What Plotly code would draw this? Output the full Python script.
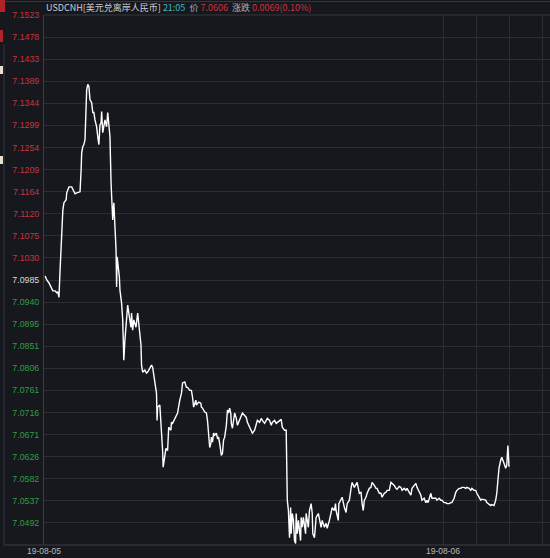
import plotly.graph_objects as go

# minutes since session start
minutes = [2,5,9,13,16,20,23,25,27,29,31,32,34,36,40,41,45,50,52,56,59,65,67,68,70,72,74,76,77,79,81,83,86,88,90,92,95,97,99,101,103,104,106,110,113,115,117,119,121,122,124,126,128,130,131,132,134,136,137,140,142,144,146,149,151,153,157,158,160,162,166,169,171,
           175,176,178,182,185,187,191,194,196,200,203,204,205,209,211,212,214,215,218,220,223,225,229,230,232,236,239,241,245,248,250,254,257,259,263,266,268,270,274,275,279,283,284,286,290,293,295,297,299,301,302,304,306,308,311,313,315,317,319,320,322,324,326,329,331,333,335,337,338,340,344,347,349,353,356,358,362,365,367,371,374,376,380,383,385,389,392,394,398,401,403,407,410,412,416,419,421,425,428,430,434,437,
           439,441,443,445,446,448,450,452,454,455,457,459,463,464,466,468,472,473,477,479,482,484,485,488,490,491,495,499,500,502,506,509,511,515,518,520,524,526,527,531,532,535,536,538,542,545,547,551,554,556,560,563,565,569,572,574,576,578,581,583,587,590,592,596,599,601,605,608,610,614,617,619,623,626,628,632,635,637,641,644,646,650,653,655,659,662,664,668,671,673,677,680,682,686,689,691,693,697,698,700,704,707,709,713,716,718,722,725,727,731,734,736,740,742,743,745,749,752,754,758,761,763,767,770,772,776,779,781,785,788,790,794,797,799,803,806,808,812,815,817,819,821,824,826,830,833,835,837,839]

prices = [7.0993,7.0985,7.0979,7.0971,7.0963,7.0963,7.0959,7.0961,7.0950,7.1005,7.1060,7.1093,7.1127,7.1142,7.1148,7.1162,7.1174,7.1174,7.1168,7.1160,7.1162,7.1164,7.1209,7.1243,7.1256,7.1260,7.1270,7.1317,7.1371,7.1382,7.1378,7.1351,7.1345,7.1325,7.1325,7.1310,7.1296,7.1276,7.1260,7.1300,7.1304,7.1327,7.1284,7.1310,7.1296,7.1325,7.1296,7.1276,7.1182,7.1148,7.1107,7.1142,7.1101,7.1046,7.0971,7.1032,7.1011,7.0991,7.0965,7.0938,7.0904,7.0822,7.0863,7.0904,7.0934,7.0918,7.0889,7.0918,7.0883,7.0904,7.0889,7.0918,7.0898,
          7.0853,7.0812,7.0798,7.0802,7.0796,7.0798,7.0806,7.0812,7.0808,7.0782,7.0755,7.0700,7.0727,7.0731,7.0700,7.0666,7.0639,7.0605,7.0625,7.0643,7.0639,7.0686,7.0680,7.0696,7.0694,7.0704,7.0710,7.0715,7.0741,7.0755,7.0776,7.0778,7.0767,7.0767,7.0761,7.0761,7.0747,7.0727,7.0741,7.0731,7.0737,7.0735,7.0727,7.0725,7.0717,7.0715,7.0700,7.0666,7.0645,7.0653,7.0666,7.0656,7.0674,7.0670,7.0674,7.0664,7.0666,7.0653,7.0633,7.0629,7.0633,7.0660,7.0666,7.0690,7.0721,7.0715,7.0725,7.0715,7.0694,7.0684,7.0715,7.0704,7.0690,7.0700,7.0710,7.0715,7.0710,7.0706,7.0696,7.0686,7.0676,7.0674,7.0680,7.0690,7.0700,7.0696,7.0704,7.0700,7.0694,7.0700,7.0704,7.0700,7.0690,7.0696,7.0700,7.0694,7.0696,7.0700,7.0702,7.0686,7.0680,7.0680,
          7.0538,7.0517,7.0462,7.0523,7.0470,7.0511,7.0497,7.0456,7.0450,7.0511,7.0470,7.0497,7.0456,7.0503,7.0483,7.0503,7.0470,7.0511,7.0483,7.0517,7.0531,7.0511,7.0470,7.0462,7.0483,7.0503,7.0511,7.0483,7.0483,7.0497,7.0483,7.0491,7.0481,7.0497,7.0517,7.0523,7.0517,7.0531,7.0517,7.0497,7.0531,7.0538,7.0542,7.0544,7.0523,7.0513,7.0531,7.0538,7.0562,7.0574,7.0564,7.0572,7.0574,7.0552,7.0554,7.0531,7.0517,7.0538,7.0544,7.0552,7.0562,7.0564,7.0574,7.0568,7.0562,7.0562,7.0552,7.0552,7.0544,7.0552,7.0554,7.0558,7.0558,7.0574,7.0572,7.0568,7.0562,7.0560,7.0566,7.0564,7.0558,7.0562,7.0558,7.0562,7.0554,7.0548,7.0562,7.0568,7.0572,7.0564,7.0554,7.0548,7.0538,7.0542,7.0533,7.0538,7.0533,7.0548,7.0552,7.0542,7.0542,7.0542,7.0538,7.0542,7.0538,7.0538,7.0533,7.0533,7.0531,7.0531,7.0533,7.0533,7.0542,7.0552,7.0554,7.0558,7.0562,7.0562,7.0564,7.0564,7.0562,7.0564,7.0562,7.0558,7.0562,7.0558,7.0558,7.0552,7.0542,7.0538,7.0540,7.0538,7.0538,7.0533,7.0529,7.0527,7.0529,7.0527,7.0538,7.0552,7.0578,7.0603,7.0619,7.0625,7.0613,7.0603,7.0609,7.0649,7.0606]

y_ticks = [7.1523,7.1478,7.1433,7.1389,7.1344,7.1299,7.1254,7.1209,7.1164,7.1120,7.1075,7.1030,
           7.0985,7.0940,7.0895,7.0851,7.0806,7.0761,7.0716,7.0671,7.0626,7.0582,7.0537,7.0492]
prev_close = 7.0985
x_grid = [0, 720, 780, 840, 900]
date_labels = ["19-08-05", "19-08-06"]
date_pos = [0, 720]

RED = "#c9343c"
GREEN = "#2f9e44"
WHITE = "#d8d8d8"
BG = "#16181d"
GRID = "#2a2d33"

def tick_text(v):
    c = RED if v > prev_close + 1e-6 else (GREEN if v < prev_close - 1e-6 else WHITE)
    return f'<span style="color:{c}">{v:.4f}</span>'

fig = go.Figure(go.Scatter(x=minutes, y=prices, mode="lines",
                           line=dict(color="#ffffff", width=1.4), hoverinfo="skip"))

W, H = 550, 558
L, R, T, B = 44, 0, 15, 13
pw, ph = W - L - R, H - T - B

def px(x):
    return (x - L) / pw

def py(y):
    return (H - B - y) / ph

shapes = [
    dict(type="line", xref="paper", yref="paper", x0=px(0), x1=px(550), y0=py(1.5), y1=py(1.5),
         line=dict(color="#33363d", width=1)),
    dict(type="line", xref="paper", yref="paper", x0=px(4), x1=px(4), y0=py(44), y1=py(545),
         line=dict(color="#33363d", width=1)),
    dict(type="line", xref="paper", yref="paper", x0=px(4), x1=px(550), y0=0, y1=0,
         line=dict(color="#3a3d44", width=1)),
    dict(type="line", xref="paper", yref="paper", x0=0, x1=1, y0=1, y1=1,
         line=dict(color="#33363d", width=1)),
    dict(type="rect", xref="paper", yref="paper", x0=px(0), x1=px(5), y0=py(0), y1=py(12),
         fillcolor="#b0232a", line_width=0),
    dict(type="rect", xref="paper", yref="paper", x0=px(0), x1=px(3), y0=py(30), y1=py(42),
         fillcolor="#b0232a", line_width=0),
    dict(type="rect", xref="paper", yref="paper", x0=px(0), x1=px(3), y0=py(66), y1=py(74),
         fillcolor="#e8e0c8", line_width=0),
    dict(type="rect", xref="paper", yref="paper", x0=px(0), x1=px(3), y0=py(156), y1=py(164),
         fillcolor="#e8e0c8", line_width=0),
]

title = ('<span style="color:#d0d0d0">USDCNH[美元兑离岸人民币]</span> '
         '<span style="color:#3fbac6">21:05</span>  '
         '<span style="color:#b0b0b0">价</span> '
         f'<span style="color:{RED}">7.0606</span>  '
         '<span style="color:#b0b0b0">涨跌</span> '
         f'<span style="color:{RED}">0.0069(0.10%)</span>')

annotations = [dict(text=title, xref="paper", yref="paper", x=px(44), y=py(8),
                    xanchor="left", yanchor="middle", showarrow=False,
                    font=dict(family="Noto Sans CJK SC", size=9))]
for lab, pos in zip(date_labels, date_pos):
    annotations.append(dict(text=lab, xref="x", yref="paper", x=pos, y=py(551),
                            xanchor="center", yanchor="middle", showarrow=False,
                            font=dict(family="Liberation Sans", size=8.5, color="#b8b8b8")))

fig.update_layout(
    width=W, height=H,
    margin=dict(l=L, r=R, t=T, b=B, pad=0),
    paper_bgcolor=BG, plot_bgcolor=BG,
    showlegend=False,
    shapes=shapes,
    annotations=annotations,
    xaxis=dict(range=[0, 913], tickvals=x_grid, showticklabels=False, showgrid=True,
               gridcolor=GRID, gridwidth=1, zeroline=False, showline=False, ticks="",
               automargin=False),
    yaxis=dict(range=[7.0447, 7.1523], tickvals=y_ticks, ticktext=[tick_text(v) for v in y_ticks],
               showgrid=True, gridcolor=GRID, gridwidth=1, zeroline=False,
               showline=True, linecolor="#3a3d44", ticks="", ticklabelstandoff=2,
               automargin=False,
               tickfont=dict(family="Liberation Sans", size=8.8)),
)

fig.write_html("out.html", config={"displayModeBar": False})

# remove the browser's default page margin so the figure sits at the window origin
with open("out.html", encoding="utf-8") as f:
    html = f.read()
html = html.replace("<body>", f'<body style="margin:0;padding:0;background:{BG};overflow:hidden">', 1)
with open("out.html", "w", encoding="utf-8") as f:
    f.write(html)
